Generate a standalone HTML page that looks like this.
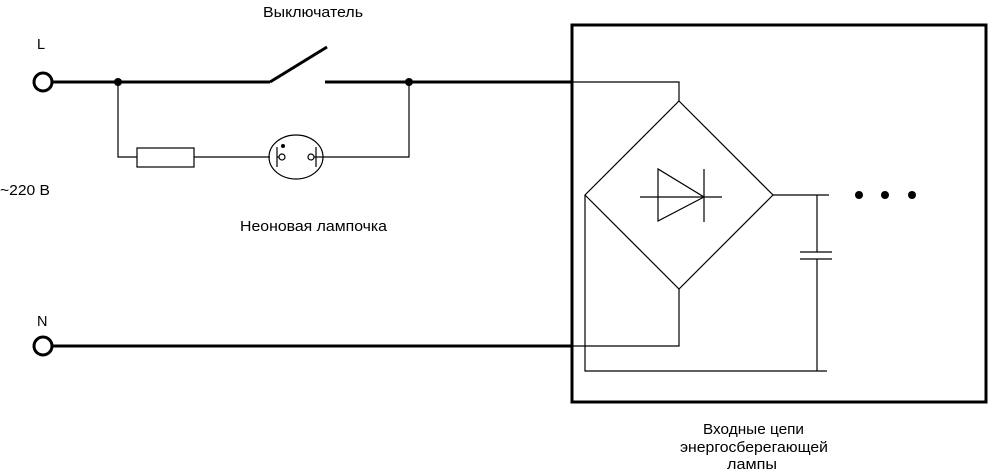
<!DOCTYPE html>
<html><head><meta charset="utf-8"><style>html,body{margin:0;padding:0;background:#fff}svg{display:block}</style></head>
<body>
<svg width="989" height="475" viewBox="0 0 989 475" xmlns="http://www.w3.org/2000/svg" font-family="Liberation Sans, sans-serif" font-size="14.5" fill="none">
<g fill="#000" stroke="none">
<text x="263" y="17" textLength="100" lengthAdjust="spacingAndGlyphs">Выключатель</text>
<text x="37" y="49">L</text>
<text x="0" y="195" textLength="50" lengthAdjust="spacingAndGlyphs">~220 В</text>
<text x="240" y="231" textLength="147" lengthAdjust="spacingAndGlyphs">Неоновая лампочка</text>
<text x="37" y="326">N</text>
<text x="703" y="434" textLength="101" lengthAdjust="spacingAndGlyphs">Входные цепи</text>
<text x="680" y="452" textLength="148" lengthAdjust="spacingAndGlyphs">энергосберегающей</text>
<text x="727" y="469" textLength="50" lengthAdjust="spacingAndGlyphs">лампы</text>
</g>
<g stroke="#000" stroke-width="3">
<circle cx="43" cy="82" r="9" fill="#fff"/>
<circle cx="43" cy="346" r="9" fill="#fff"/>
<line x1="52" y1="82" x2="270" y2="82"/>
<line x1="270" y1="82" x2="327" y2="47"/>
<line x1="325" y1="82" x2="572" y2="82"/>
<line x1="52" y1="346" x2="572" y2="346"/>
<rect x="572" y="25" width="414" height="377"/>
</g>
<g fill="#000"><circle cx="118" cy="82" r="4"/><circle cx="409" cy="82" r="4"/>
<circle cx="283" cy="146" r="2"/>
<circle cx="859" cy="195" r="4"/><circle cx="885" cy="195" r="4"/><circle cx="912" cy="195" r="4"/></g>
<g stroke="#000" stroke-width="1.2">
<polyline points="118,82 118,157 137,157"/>
<rect x="137" y="148" width="57" height="19"/>
<line x1="194" y1="157" x2="270" y2="157"/>
<ellipse cx="296" cy="157" rx="27" ry="22"/>
<line x1="277" y1="147" x2="277" y2="167"/>
<line x1="277" y1="157" x2="279" y2="157"/>
<circle cx="282" cy="157" r="3"/>
<circle cx="311" cy="157" r="3"/>
<line x1="316" y1="147" x2="316" y2="167"/>
<line x1="314" y1="157" x2="323" y2="157"/>
<polyline points="323,157 409,157 409,82"/>
<polyline points="572,82 679,82 679,101"/>
<polygon points="679,101 773,195 679,289 585,195"/>
<polygon points="658,169 658,221 704,197"/>
<line x1="704" y1="169" x2="704" y2="222"/>
<line x1="640" y1="197" x2="722" y2="197"/>
<line x1="773" y1="195" x2="829" y2="195"/>
<line x1="817" y1="195" x2="817" y2="252"/>
<line x1="800" y1="252" x2="832" y2="252"/>
<line x1="800" y1="259" x2="832" y2="259"/>
<line x1="817" y1="259" x2="817" y2="371"/>
<polyline points="585,195 585,371 827,371"/>
<polyline points="679,289 679,346 572,346"/>
</g>
</svg>
</body></html>
